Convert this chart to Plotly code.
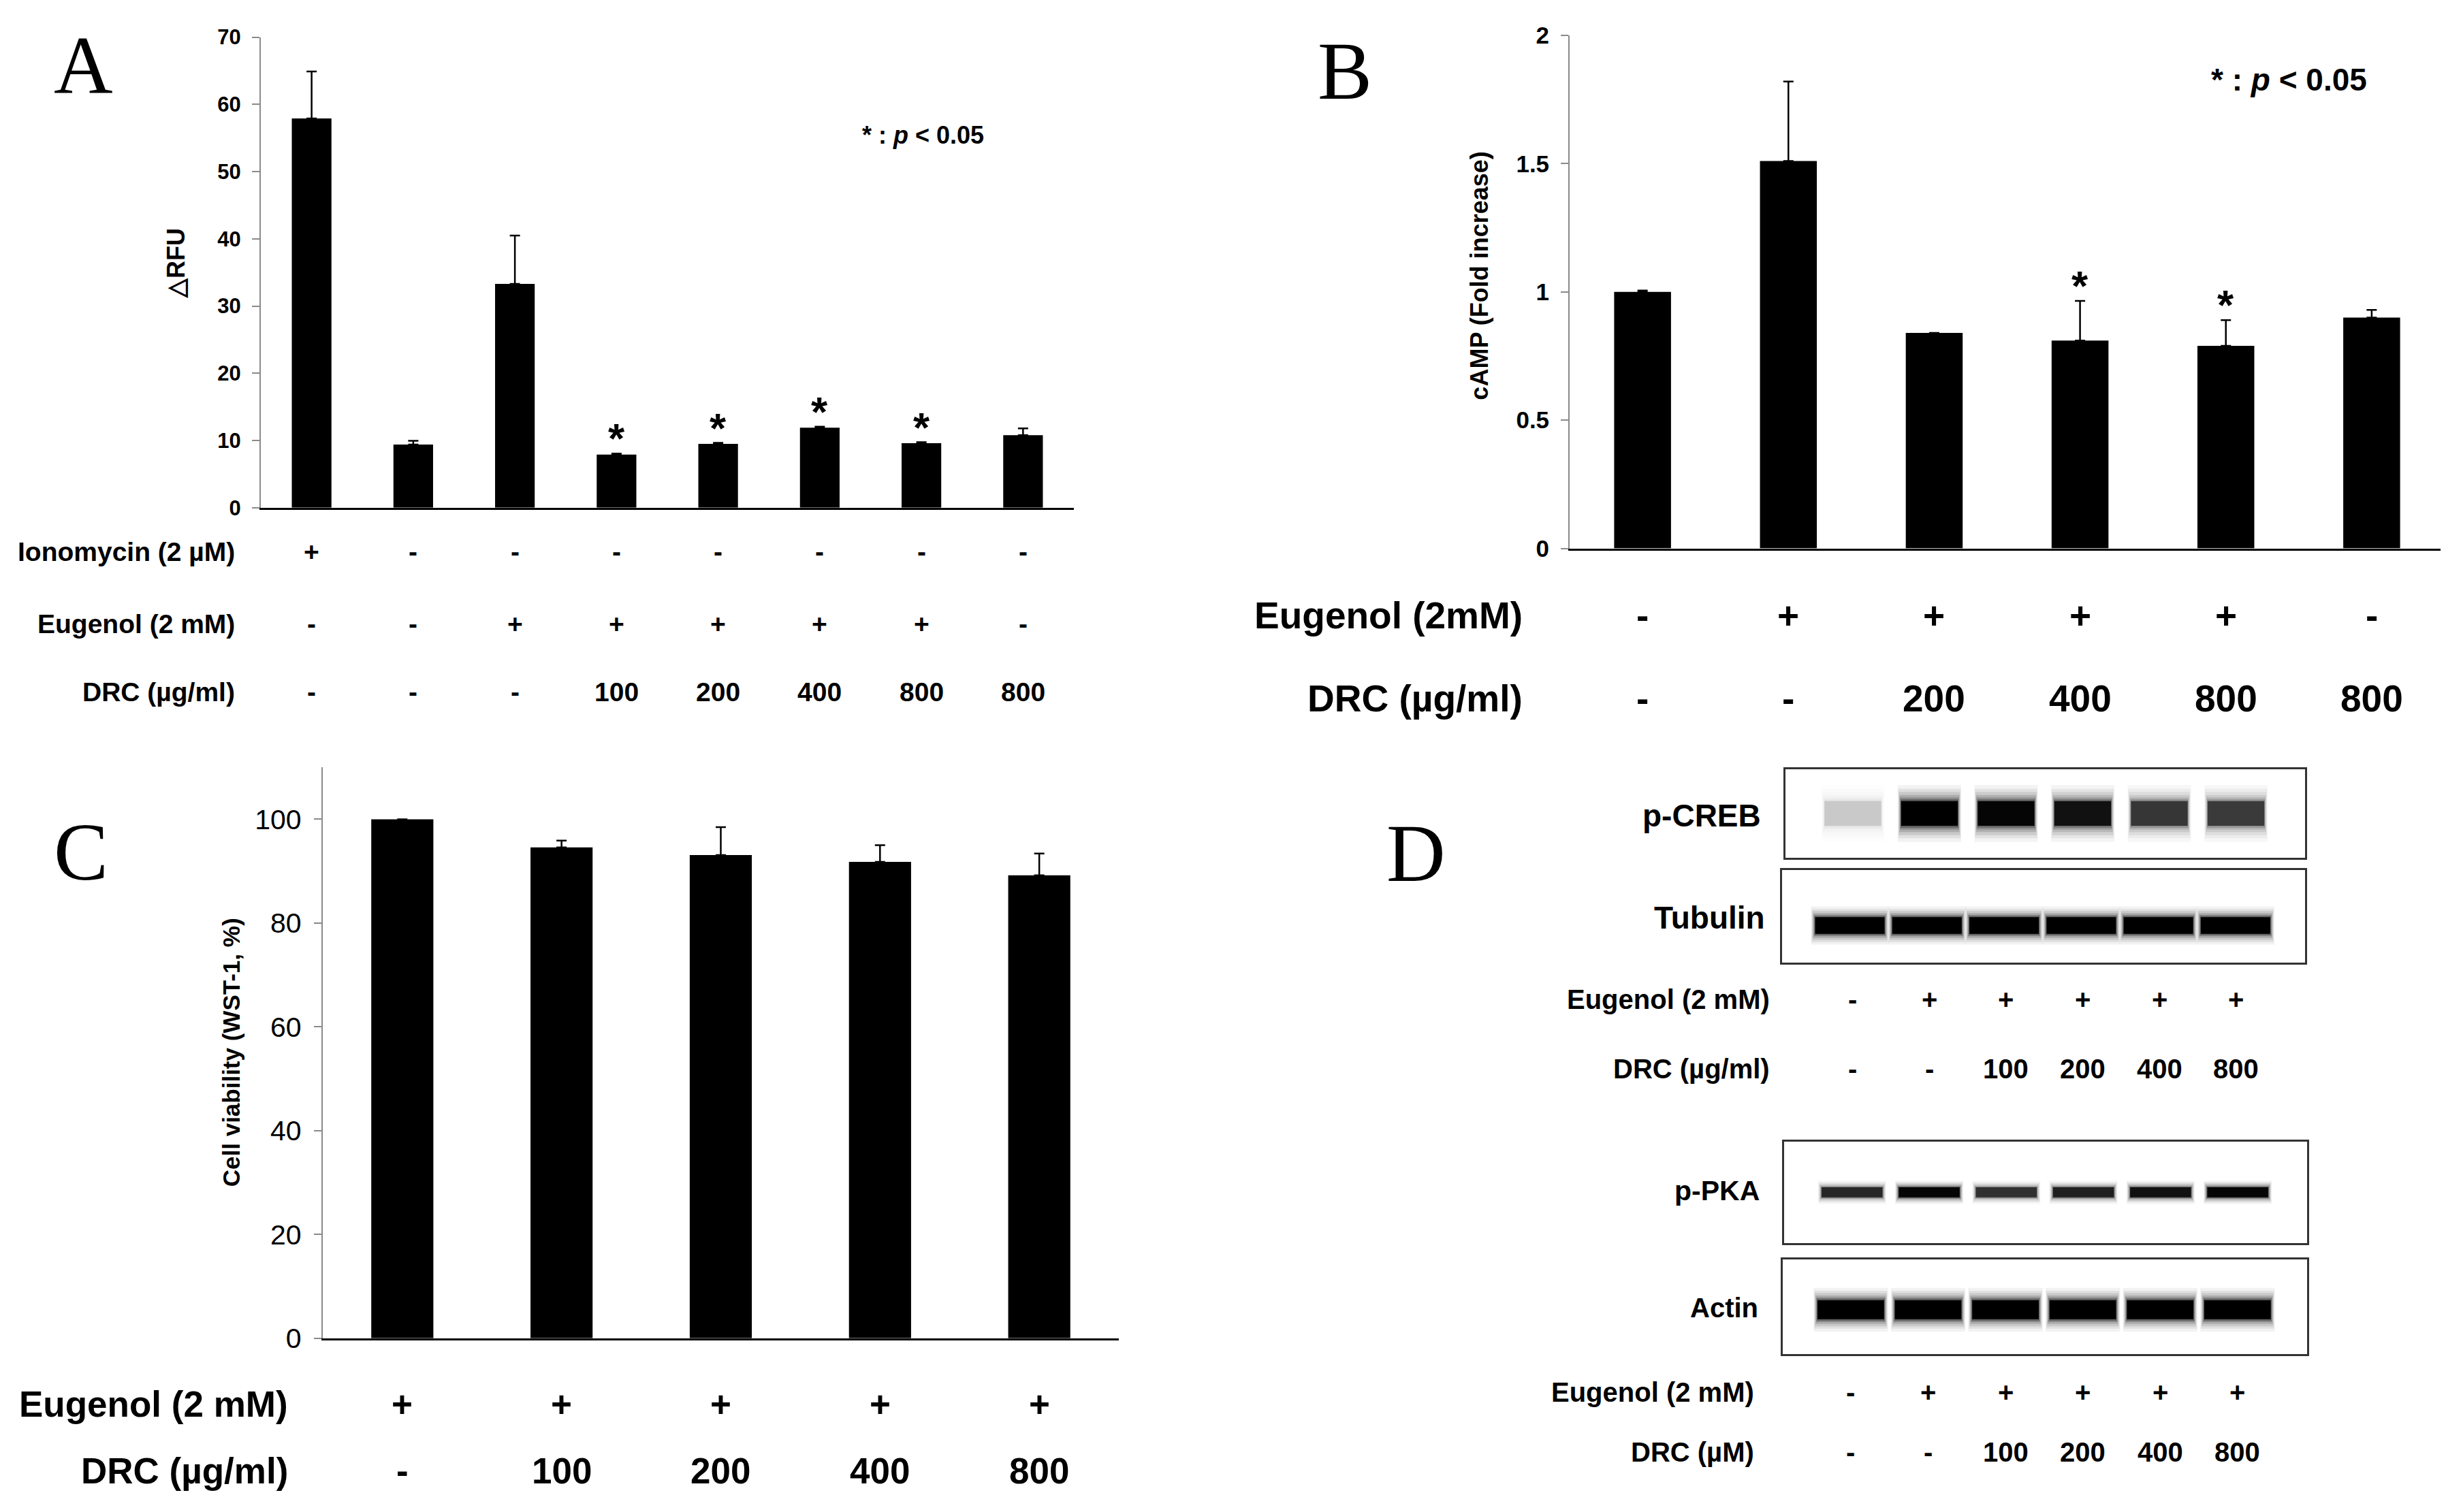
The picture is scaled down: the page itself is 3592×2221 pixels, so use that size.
import plotly.graph_objects as go

# ---- data -------------------------------------------------------------
# panel A: intracellular calcium
A_ionomycin = ["+", "-", "-", "-", "-", "-", "-", "-"]
A_eugenol = ["-", "-", "+", "+", "+", "+", "+", "-"]
A_drc = ["-", "-", "-", "100", "200", "400", "800", "800"]
A_rfu = [57.9, 9.4, 33.3, 7.9, 9.5, 11.9, 9.6, 10.8]
A_err = [7.0, 0.55, 7.2, 0.15, 0.15, 0.15, 0.15, 1.0]
A_sig = [False, False, False, True, True, True, True, False]

# panel B: cAMP
B_eugenol = ["-", "+", "+", "+", "+", "-"]
B_drc = ["-", "-", "200", "400", "800", "800"]
B_camp = [1.0, 1.51, 0.84, 0.81, 0.79, 0.90]
B_err = [0.005, 0.31, 0.0, 0.155, 0.10, 0.03]
B_sig = [False, False, False, True, True, False]

# panel C: cell viability
C_eugenol = ["+", "+", "+", "+", "+"]
C_drc = ["-", "100", "200", "400", "800"]
C_viability = [100.0, 94.6, 93.1, 91.8, 89.2]
C_err = [0.0, 1.3, 5.4, 3.2, 4.2]

# panel D: western blots (relative band intensity per lane)
D_eugenol = ["-", "+", "+", "+", "+", "+"]
D_drc = ["-", "-", "100", "200", "400", "800"]
D_creb = [0.12, 1.0, 0.95, 0.85, 0.62, 0.6]
D_tubulin = [1.0, 1.0, 1.0, 1.0, 1.0, 1.0]
D_pka = [0.7, 0.95, 0.65, 0.75, 0.85, 0.95]
D_actin = [1.0, 1.0, 1.0, 1.0, 1.0, 1.0]

SANS = "Liberation Sans, Arial, sans-serif"
SERIF = "Liberation Serif, Times New Roman, serif"
W, H = 3592, 2221

fig = go.Figure()
annotations = []


def add_bar_panel(xa, ya, values, errs):
    n = len(values)
    fig.add_trace(go.Bar(
        x=list(range(n)), y=values, width=0.39,
        marker=dict(color="black", line_width=0),
        error_y=dict(type="data", symmetric=False, array=errs, arrayminus=[0] * n,
                     color="black", thickness=2.5, width=7.5),
        xaxis=xa, yaxis=ya, showlegend=False, hoverinfo="skip",
    ))


def add_stars(xa, ya, values, errs, sig):
    for i, (v, e, s) in enumerate(zip(values, errs, sig)):
        if s:
            annotations.append(dict(
                x=i, y=v + e, xref=xa, yref=ya, text="*", showarrow=False,
                yanchor="bottom", yshift=-14,
                font=dict(family=SANS, size=62, color="black", weight="bold"),
            ))


def add_rows(xref, label_x, rows, size, weight="bold"):
    for label, y, values in rows:
        annotations.append(dict(
            x=label_x, y=y, xref="paper", yref="paper", text=label, showarrow=False,
            xanchor="right", yanchor="middle",
            font=dict(family=SANS, size=size, color="black", weight=weight),
        ))
        for i, t in enumerate(values):
            annotations.append(dict(
                x=i, y=y, xref=xref, yref="paper", text=t, showarrow=False,
                xanchor="center", yanchor="middle",
                font=dict(family=SANS, size=size, color="black", weight=weight),
            ))


def text(x, y, t, size, family=SANS, angle=0, weight="bold", xanchor="center"):
    annotations.append(dict(
        x=x, y=y, xref="paper", yref="paper", text=t, showarrow=False, textangle=angle,
        xanchor=xanchor, yanchor="middle",
        font=dict(family=family, size=size, color="black", weight=weight),
    ))


# ---- bar panels -------------------------------------------------------
add_bar_panel("x", "y", A_rfu, A_err)
add_bar_panel("x2", "y2", B_camp, B_err)
add_bar_panel("x3", "y3", C_viability, C_err)
add_stars("x", "y", A_rfu, A_err, A_sig)
add_stars("x2", "y2", B_camp, B_err, B_sig)

add_rows("x", 0.0944, [("Ionomycin (2 µM)", 0.6407, A_ionomycin),
                       ("Eugenol (2 mM)", 0.5921, A_eugenol),
                       ("DRC (µg/ml)", 0.5462, A_drc)], 39)
add_rows("x2", 0.6208, [("Eugenol (2mM)", 0.5979, B_eugenol),
                        ("DRC (µg/ml)", 0.5416, B_drc)], 55)
add_rows("x3", 0.1161, [("Eugenol (2 mM)", 0.0657, C_eugenol),
                        ("DRC (µg/ml)", 0.0207, C_drc)], 53)

# ---- blots ------------------------------------------------------------
blots = [
    # (axis id, intensities, band centre, band height, band width)
    ("4", D_creb, 0.50, 0.28, 0.74),
    ("5", D_tubulin, 0.40, 0.18, 0.90),
    ("6", D_pka, 0.50, 0.10, 0.79),
    ("7", D_actin, 0.47, 0.20, 0.86),
]
# soft edges: stacked translucent layers, widest first
blur = [(2.3, 1.12, 0.05), (2.0, 1.10, 0.07), (1.75, 1.08, 0.10), (1.5, 1.06, 0.14),
        (1.3, 1.04, 0.20), (1.15, 1.02, 0.30), (1.0, 1.0, 1.0)]
for ax, inten, c, h, w in blots:
    for hs, ws, a in blur:
        colors = ["rgba(0,0,0,%.3f)" % min(1.0, a * v) for v in inten]
        fig.add_trace(go.Bar(
            x=list(range(len(inten))), y=[h * hs] * len(inten),
            base=[c - h * hs / 2] * len(inten), width=w * ws,
            marker=dict(color=colors, line_width=0),
            xaxis="x" + ax, yaxis="y" + ax, showlegend=False, hoverinfo="skip",
        ))

add_rows("x4", 0.7219, [("Eugenol (2 mM)", 0.339, D_eugenol),
                        ("DRC (µg/ml)", 0.2918, D_drc)], 40)
add_rows("x7", 0.7155, [("Eugenol (2 mM)", 0.0738, D_eugenol),
                        ("DRC (µM)", 0.0333, D_drc)], 40)

text(0.7183, 0.4629, "p-CREB", 46, xanchor="right")
text(0.7199, 0.3940, "Tubulin", 46, xanchor="right")
text(0.7177, 0.2098, "p-PKA", 41, xanchor="right")
text(0.7171, 0.1310, "Actin", 40, xanchor="right")

# ---- panel letters, titles, notes -------------------------------------
text(0.032, 0.9685, "A", 120, family=SERIF, weight="normal")
text(0.5476, 0.9650, "B", 120, family=SERIF, weight="normal")
text(0.031, 0.4381, "C", 120, family=SERIF, weight="normal")
text(0.5766, 0.4372, "D", 120, family=SERIF, weight="normal")

text(0.0699, 0.8352, "△RFU", 36, angle=-90)
text(0.6025, 0.8267, "cAMP (Fold increase)", 36, angle=-90)
text(0.0922, 0.3030, "Cell viability (WST-1, %)", 35, angle=-90)

text(0.375, 0.9217, "* : <i>p</i> &lt; 0.05", 36)
text(0.9335, 0.9590, "* : <i>p</i> &lt; 0.05", 46)


# ---- axes -------------------------------------------------------------
def bar_xaxis(domain, n, anchor):
    return dict(domain=domain, range=[-0.5, n - 0.5], anchor=anchor, showline=True,
                linecolor="black", linewidth=3, showticklabels=False, ticks="",
                showgrid=False, zeroline=False, fixedrange=True)


def bar_yaxis(domain, rng, dtick, anchor, size, weight="bold", tickvals=None):
    d = dict(domain=domain, range=rng, anchor=anchor, showline=True, linecolor="#8a8a8a",
             linewidth=2, ticks="outside", ticklen=11, tickwidth=2, tickcolor="#8a8a8a",
             tickfont=dict(family=SANS, size=size, color="black", weight=weight),
             showgrid=False, zeroline=False, fixedrange=True, ticklabelstandoff=10)
    if tickvals is not None:
        d["tickvals"] = tickvals
    else:
        d["dtick"] = dtick
    return d


def blot_axes(xdom, ydom, anchor_x, anchor_y):
    xa = dict(domain=xdom, range=[-0.88, 5.9], anchor=anchor_y, showline=True, mirror=True,
              linecolor="#333333", linewidth=3, showticklabels=False, ticks="",
              showgrid=False, zeroline=False, fixedrange=True)
    ya = dict(domain=ydom, range=[0, 1], anchor=anchor_x, showline=True, mirror=True,
              linecolor="#333333", linewidth=3, showticklabels=False, ticks="",
              showgrid=False, zeroline=False, fixedrange=True)
    return xa, ya


layout = dict(
    width=W, height=H, margin=dict(l=0, r=0, t=0, b=0),
    paper_bgcolor="white", plot_bgcolor="white", barmode="overlay",
    font=dict(family=SANS, color="black"),
    xaxis=bar_xaxis([0.1044, 0.4368], len(A_rfu), "y"),
    yaxis=bar_yaxis([0.6704, 0.9878], [0, 70], 10, "x", 31),
    xaxis2=bar_xaxis([0.6395, 0.9972], len(B_camp), "y2"),
    yaxis2=bar_yaxis([0.6430, 0.9890], [0, 2], 0.5, "x2", 35),
    xaxis3=bar_xaxis([0.1297, 0.4552], len(C_viability), "y3"),
    yaxis3=bar_yaxis([0.1103, 0.4953], [0, 110], None, "x3", 41, weight="normal",
                     tickvals=[0, 20, 40, 60, 80, 100]),
    annotations=annotations,
)
for ax, xdom, ydom in [("4", [0.7277, 0.9401], [0.4345, 0.4939]),
                       ("5", [0.7263, 0.9401], [0.3638, 0.4259]),
                       ("6", [0.7272, 0.9410], [0.1747, 0.2427]),
                       ("7", [0.7266, 0.9410], [0.0995, 0.1634])]:
    xa, ya = blot_axes(xdom, ydom, "x" + ax, "y" + ax)
    layout["xaxis" + ax] = xa
    layout["yaxis" + ax] = ya

fig.update_layout(**layout)
fig.write_html("out.html", config={"displayModeBar": False})
